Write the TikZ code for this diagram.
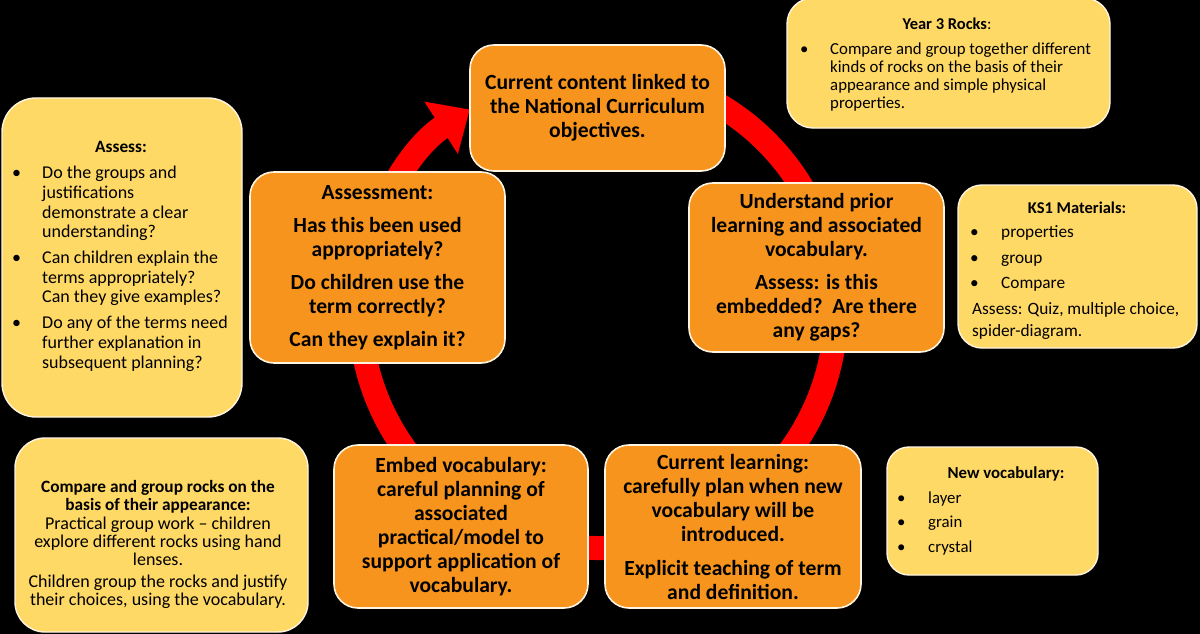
\documentclass[tikz,border=0pt]{standalone}
\usepackage{fontspec}
\setmainfont{Carlito}
\usetikzlibrary{arrows.meta}
\definecolor{orangefill}{RGB}{247,148,29}
\definecolor{yellowfill}{RGB}{255,217,102}
\definecolor{bordercol}{RGB}{255,244,225}
\definecolor{ringred}{RGB}{255,0,0}
\newcommand\bul[1]{\makebox[#1][l]{\textbullet}}
\newcommand\ind[1]{\hspace*{#1}}
\tikzset{
  obox/.style={draw=bordercol, line width=1.6pt, fill=orangefill, rounded corners=24pt,
    align=center, text=black, inner sep=0pt, font=\bfseries\fontsize{21.6}{24}\selectfont},
  ybox/.style={draw=bordercol, line width=1.4pt, fill=yellowfill, rounded corners=26pt, inner sep=0pt},
  ylist/.style={align=left, text=black, inner sep=0pt, anchor=base west},
  yhead/.style={text=black, inner sep=0pt, anchor=base, font=\bfseries\fontsize{16.8}{18}\selectfont},
  ring/.style={draw=ringred, line width=24pt, -{Triangle[length=34pt,width=60pt]}}
}
\begin{document}
\begin{tikzpicture}[x=1pt,y=-1pt]
\useasboundingbox (0,0) rectangle (1200,634);
\fill[black] (0,0) rectangle (1200,634);

% red cycle ring with arrow
\coordinate (ringc) at (598,310);
\draw[ring] (ringc) ++(-80:238) arc[start angle=-80, end angle=237.4, radius=238];

% orange process boxes
\node[obox, minimum width=255pt, minimum height=126pt] (top) at (597.5,108)
  {Current content linked to\\the National Curriculum\\objectives.};
\node[obox, minimum width=255pt, minimum height=169pt] (right) at (816.5,267.5)
  {Understand prior\\learning and associated\\vocabulary.\\[9pt]Assess: is this\\embedded?~~Are there\\any gaps?};
\node[obox, minimum width=255pt, minimum height=191pt] (left) at (377.5,267.5)
  {Assessment:\\[9pt]Has this been used\\appropriately?\\[9pt]Do children use the\\term correctly?\\[9pt]Can they explain it?};
\node[obox, minimum width=254pt, minimum height=163pt] (botleft) at (461,526.5)
  {Embed vocabulary:\\careful planning of\\associated\\practical/model to\\support application of\\vocabulary.};
\node[obox, minimum width=256pt, minimum height=163pt] (botright) at (733,526.5)
  {Current learning:\\carefully plan when new\\vocabulary will be\\introduced.\\[10pt]Explicit teaching of term\\and definition.};

% yellow note boxes
\node[ybox, rounded corners=34pt, minimum width=240pt, minimum height=319pt] (assessbox) at (122,257.5) {};
\node[yhead, font=\bfseries\fontsize{17.3}{19.6}\selectfont] (assesshead) at (121,152) {Assess:};
\node[ylist, font=\fontsize{18}{19.7}\selectfont] (assesslist) at (12,368)
  {\bul{30pt}Do the groups and\\
   \ind{30pt}justifications\\
   \ind{30pt}demonstrate a clear\\
   \ind{30pt}understanding?\\[6pt]
   \bul{30pt}Can children explain the\\
   \ind{30pt}terms appropriately?\\
   \ind{30pt}Can they give examples?\\[6pt]
   \bul{30pt}Do any of the terms need\\
   \ind{30pt}further explanation in\\
   \ind{30pt}subsequent planning?};

\node[ybox, minimum width=323pt, minimum height=130pt] (yearbox) at (948.5,63) {};
\node[yhead, font=\fontsize{16.5}{17.7}\selectfont] (yearhead) at (947,30) {\textbf{Year 3 Rocks}:};
\node[ylist, font=\fontsize{16.8}{17.8}\selectfont] (yearlist) at (800,108)
  {\bul{30pt}Compare and group together different\\
   \ind{30pt}kinds of rocks on the basis of their\\
   \ind{30pt}appearance and simple physical\\
   \ind{30pt}properties.};

\node[ybox, rounded corners=24pt, minimum width=239pt, minimum height=163pt] (ks1box) at (1077.5,266.5) {};
\node[yhead, font=\bfseries\fontsize{16.5}{18}\selectfont] (ks1head) at (1077,213) {KS1 Materials:};
\node[ylist, font=\fontsize{17.3}{22}\selectfont] (ks1list) at (970,336)
  {\bul{31pt}properties\\[4pt]
   \bul{31pt}group\\[3pt]
   \bul{31pt}Compare\\[4pt]
   \ind{2pt}Assess: Quiz, multiple choice,\\
   \ind{2pt}spider-diagram.};

\node[ybox, rounded corners=22pt, minimum width=211pt, minimum height=128pt] (vocabbox) at (992.5,511) {};
\node[yhead] (vocabhead) at (1006,478) {New vocabulary:};
\node[ylist, font=\fontsize{16.8}{24.5}\selectfont] (vocablist) at (897,552)
  {\bul{31pt}layer\\
   \bul{31pt}grain\\
   \bul{31pt}crystal};

\node[ybox, rounded corners=30pt, minimum width=293pt, minimum height=194pt] (comparebox) at (161.5,535) {};
\node[align=center, text=black, inner sep=0pt, anchor=base, font=\fontsize{18}{17.8}\selectfont] (comparetext) at (158,605)
  {\textbf{\fontsize{17.3}{17.8}\selectfont Compare and group rocks on the}\\
   \textbf{\fontsize{17.3}{17.8}\selectfont basis of their appearance:}\\[2pt]
   Practical group work -- children\\
   explore different rocks using hand\\
   lenses.\\[4pt]
   Children group the rocks and justify\\
   their choices, using the vocabulary.};
\end{tikzpicture}
\end{document}
